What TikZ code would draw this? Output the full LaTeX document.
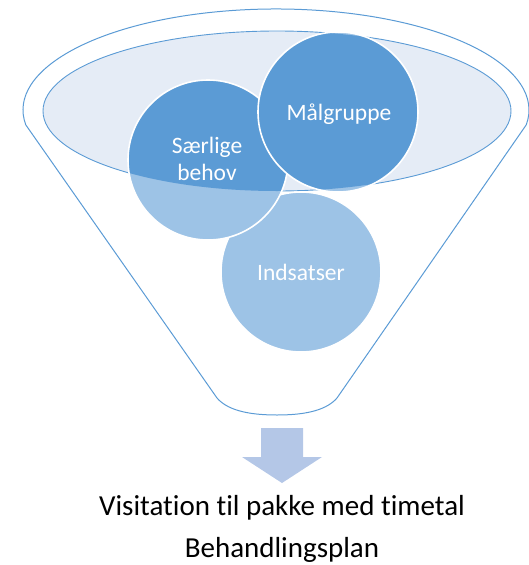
\documentclass[tikz,border=0pt]{standalone}
\usepackage{fontspec}
\setmainfont{Carlito}[RawFeature={-liga;-clig;-dlig}]
\definecolor{accent}{HTML}{5B9BD5}
\definecolor{lightacc}{HTML}{9DC3E6}
\definecolor{ellfill}{HTML}{E5ECF6}
\definecolor{arrowfill}{HTML}{B4C7E7}
\newcommand\mybubble[1]{%
  \fill[lightacc] #1 circle[radius=80];
  \begin{scope}
    \clip (277,-111) ellipse[x radius=234, y radius=80];
    \fill[accent] #1 circle[radius=80];
  \end{scope}
  \draw[white, line width=1.6pt] #1 circle[radius=80];}
\begin{document}
\begin{tikzpicture}[x=1pt,y=1pt,
  funnelline/.style={draw=accent, line width=1pt},
  circtext/.style={text=white, font=\fontsize{23.5}{27}\selectfont, align=center},
  captext/.style={font=\fontsize{29}{34}\selectfont, anchor=base}]
\useasboundingbox (0,-565) rectangle (528,0);
% funnel outline
\draw[funnelline] (25.8,-124.9) coordinate (fl)
  arc[start angle=188.5, end angle=-8.5, x radius=253, y radius=101] coordinate (fr)
  -- (337,-398) .. controls (325,-412) and (300,-415) .. (277,-415)
  .. controls (254,-415) and (229,-412) .. (217,-398) -- cycle;
% inner ellipse
\path[fill=ellfill, draw=accent, line width=0.9pt] (277,-111) ellipse[x radius=234, y radius=80];
% circles
\mybubble{(301,-272)}
\mybubble{(208,-160)}
\mybubble{(338,-112)}
\node[circtext, anchor=base] (mal) at (339,-120) {Målgruppe};
\node[circtext] (saer) at (207,-159) {Særlige\\behov};
\node[circtext, anchor=base] (ind) at (301,-280) {Indsatser};
% arrow
\fill[arrowfill] (261,-428) -- (303,-428) -- (303,-457) -- (322,-457) -- (282,-483)
  -- (242,-457) -- (261,-457) -- cycle;
\node[captext] (visit) at (282,-515) {Visitation til pakke med timetal};
\node[captext] (plan) at (282,-557) {Behandlingsplan};
\end{tikzpicture}
\end{document}
